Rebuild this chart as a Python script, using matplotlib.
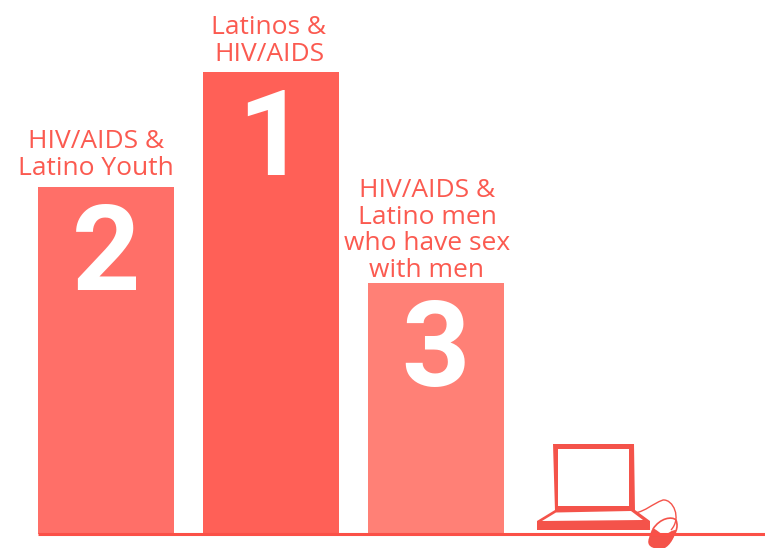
import matplotlib
matplotlib.use("Agg")
import matplotlib.pyplot as plt
from matplotlib.patches import PathPatch, Polygon
from matplotlib.path import Path

# bar values (pixels above the baseline)
ranks = ["2", "1", "3"]
heights = [347, 462, 251]
labels = ["HIV/AIDS &\nLatino Youth", "Latinos &\nHIV/AIDS",
          "HIV/AIDS &\nLatino men\nwho have sex\nwith men"]

# layout and colours
bar_left = [38, 203, 368]
bar_width = 136
bar_colors = ["#ff6f68", "#ff6057", "#ff8076"]
label_x = [96, 269, 427]
label_gap = [6, 5, 0]

RED = "#f4534a"
TEXT_RED = "#fb5a50"

fig = plt.figure(figsize=(7.65, 5.48), dpi=100)
ax = fig.add_axes([0, 0, 1, 1])
ax.set_xlim(0, 765)
ax.set_ylim(-14, 534)  # y = 0 is the baseline
ax.axis("off")

ax.bar(bar_left, heights, width=bar_width, align="edge", color=bar_colors, linewidth=0)

for x, h, rank, lab, lx, gap in zip(bar_left, heights, ranks, labels, label_x, label_gap):
    ax.text(x + bar_width / 2, h - 103, rank, color="white", ha="center", va="baseline",
            fontsize=86, fontweight="bold", family="Roboto")
    ax.text(lx, h + gap, lab, color=TEXT_RED, ha="center", va="bottom",
            fontsize=19, family="Open Sans", linespacing=1.09)

# --- laptop and mouse icon, sits on the baseline ---
def up(p):
    # icon outlines are noted in image pixels, flip to axis coords
    return [(a, 534 - b) for a, b in p]

screen = Polygon(up([(553, 444), (634, 444), (635, 511), (555, 511)]), fc=RED, ec="none", zorder=3)
screen_in = Polygon(up([(558.5, 448.5), (629, 448.5), (629, 506), (558, 506)]), fc="white", ec="none", zorder=4)
base = Polygon(up([(555, 510), (635, 510), (650, 521), (650, 530), (537, 530), (537, 521)]), fc=RED, ec="none", zorder=3)
base_in = Polygon(up([(556, 512.5), (631, 511), (643, 520), (542, 521)]), fc="white", ec="none", zorder=4)
for p in (screen, screen_in, base, base_in):
    ax.add_patch(p)

ax.plot([38, 765], [0, 0], color="#fb5047", lw=2.2, solid_capstyle="butt", zorder=5)

cable = Path(up([(635, 513), (646, 511), (652, 504), (663, 500), (673, 499), (682, 518), (671, 530)]),
             [Path.MOVETO] + [Path.CURVE4] * 6)
ax.add_patch(PathPatch(cable, fc="none", ec=RED, lw=1.0, zorder=4))

mouse_top = Path(up([(653, 529), (660, 518), (672, 516), (676, 520), (679, 528), (675, 534), (670, 541)]),
                 [Path.MOVETO] + [Path.CURVE4] * 6)
ax.add_patch(PathPatch(mouse_top, fc="none", ec=RED, lw=1.2, zorder=4))

mouse_body = Path(up([(653, 528), (658, 531), (662, 534), (664, 536), (668, 533), (672, 530), (676, 530),
                      (674, 540), (668, 548), (662, 549),
                      (652, 549), (646, 546), (649, 538), (650, 534), (651, 531), (653, 528)]),
                  [Path.MOVETO] + [Path.CURVE4] * 15)
ax.add_patch(PathPatch(mouse_body, fc=RED, ec="none", zorder=4))

fig.savefig("out.png", dpi=100)
